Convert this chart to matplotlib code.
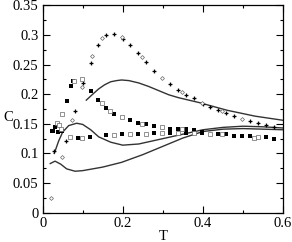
import matplotlib
matplotlib.use("Agg")
import matplotlib.pyplot as plt
from matplotlib.ticker import MultipleLocator

plt.rcParams.update({
    'font.family': 'Liberation Serif',
    'font.size': 10.5,
})

# solid curves
line1_T = [0.109, 0.125, 0.14, 0.155, 0.17, 0.185, 0.197, 0.215, 0.24, 0.265, 0.29, 0.315, 0.34, 0.39, 0.46, 0.53, 0.60]
line1_C = [0.190, 0.200, 0.209, 0.216, 0.221, 0.223, 0.224, 0.223, 0.219, 0.213, 0.206, 0.199, 0.194, 0.186, 0.173, 0.163, 0.156]

line2_T = [0.029, 0.04, 0.05, 0.065, 0.085, 0.10, 0.12, 0.14, 0.17, 0.20, 0.24, 0.28, 0.32, 0.36, 0.40, 0.45, 0.50, 0.55, 0.60]
line2_C = [0.100, 0.121, 0.136, 0.147, 0.151, 0.149, 0.140, 0.128, 0.119, 0.114, 0.116, 0.122, 0.128, 0.134, 0.140, 0.144, 0.146, 0.145, 0.143]

line3_T = [0.019, 0.031, 0.045, 0.06, 0.081, 0.10, 0.15, 0.197, 0.25, 0.30, 0.35, 0.40, 0.45, 0.50, 0.55, 0.60]
line3_C = [0.083, 0.087, 0.082, 0.074, 0.070, 0.071, 0.077, 0.085, 0.098, 0.112, 0.126, 0.137, 0.141, 0.142, 0.141, 0.140]

# hump: filled crosses
plus_T = [0.029, 0.059, 0.080, 0.100, 0.120, 0.139, 0.158, 0.178, 0.200, 0.218, 0.238, 0.258, 0.278, 0.318, 0.338,
          0.357, 0.377, 0.400, 0.417, 0.437, 0.457, 0.477, 0.517, 0.537, 0.557, 0.577]
plus_C = [0.104, 0.121, 0.172, 0.219, 0.253, 0.283, 0.300, 0.302, 0.294, 0.283, 0.269, 0.254, 0.240, 0.217, 0.207,
          0.198, 0.193, 0.184, 0.179, 0.173, 0.168, 0.163, 0.155, 0.152, 0.148, 0.144]

# hump: open diamonds
diam_T = [0.022, 0.049, 0.074, 0.098, 0.123, 0.149, 0.198, 0.248, 0.298, 0.348, 0.397, 0.447, 0.497]
diam_C = [0.024, 0.094, 0.156, 0.213, 0.264, 0.295, 0.296, 0.262, 0.228, 0.203, 0.185, 0.171, 0.159]

# decreasing branch
dec_fill_T = [0.026, 0.031, 0.060, 0.070, 0.075, 0.120, 0.138, 0.158, 0.178, 0.218, 0.238, 0.258, 0.278, 0.318,
              0.338, 0.357, 0.377, 0.397, 0.437, 0.457, 0.477, 0.497, 0.517, 0.557, 0.577]
dec_fill_C = [0.138, 0.145, 0.188, 0.214, 0.222, 0.206, 0.190, 0.176, 0.167, 0.156, 0.152, 0.149, 0.147, 0.142,
              0.142, 0.141, 0.139, 0.137, 0.133, 0.133, 0.130, 0.130, 0.130, 0.127, 0.124]
dec_open_T = [0.035, 0.041, 0.049, 0.079, 0.098, 0.148, 0.168, 0.198, 0.248, 0.298, 0.348, 0.419, 0.448, 0.527, 0.537]
dec_open_C = [0.152, 0.148, 0.166, 0.222, 0.225, 0.186, 0.172, 0.161, 0.150, 0.144, 0.141, 0.133, 0.133, 0.126, 0.128]

# flat branch
flat_fill_T = [0.024, 0.039, 0.049, 0.089, 0.119, 0.158, 0.198, 0.238, 0.278, 0.318, 0.357, 0.397]
flat_fill_C = [0.138, 0.136, 0.138, 0.126, 0.128, 0.131, 0.133, 0.133, 0.134, 0.134, 0.134, 0.135]
flat_open_T = [0.045, 0.069, 0.099, 0.178, 0.218, 0.258, 0.298, 0.338, 0.377]
flat_open_C = [0.142, 0.128, 0.126, 0.132, 0.133, 0.133, 0.134, 0.134, 0.134]

fig = plt.figure(figsize=(2.92, 2.42), dpi=100)
ax = fig.add_axes([0.146, 0.121, 0.823, 0.857])

for T, C in [(line1_T, line1_C), (line2_T, line2_C), (line3_T, line3_C)]:
    ax.plot(T, C, color='#333333', linewidth=1.0)

ax.plot(plus_T, plus_C, linestyle='none', marker='P', markersize=2.8, color='black', markeredgewidth=0)
ax.plot(diam_T, diam_C, linestyle='none', marker='D', markersize=2.0, markerfacecolor='white',
        markeredgecolor='#666666', markeredgewidth=0.5)
for T, C in [(dec_fill_T, dec_fill_C), (flat_fill_T, flat_fill_C)]:
    ax.plot(T, C, linestyle='none', marker='s', markersize=2.3, color='black', markeredgewidth=0)
for T, C in [(dec_open_T, dec_open_C), (flat_open_T, flat_open_C)]:
    ax.plot(T, C, linestyle='none', marker='s', markersize=2.2, markerfacecolor='white',
            markeredgecolor='#666666', markeredgewidth=0.5)

ax.set_xlim(0, 0.6)
ax.set_ylim(0, 0.35)
ax.set_xticks([0, 0.2, 0.4, 0.6])
ax.set_xticklabels(['0', '0.2', '0.4', '0.6'])
ax.set_yticks([0, 0.05, 0.1, 0.15, 0.2, 0.25, 0.3, 0.35])
ax.set_yticklabels(['0', '0.05', '0.1', '0.15', '0.2', '0.25', '0.3', '0.35'])
ax.xaxis.set_minor_locator(MultipleLocator(0.1))
ax.yaxis.set_minor_locator(MultipleLocator(0.025))
ax.tick_params(which='both', direction='in', top=True, right=True, width=0.8)
ax.tick_params(which='major', length=5, pad=3)
ax.tick_params(which='minor', length=2.5)
for s in ax.spines.values():
    s.set_linewidth(0.9)

ax.set_xlabel('T')
ax.set_ylabel('C', rotation=0, ha='center', va='center')
ax.xaxis.set_label_coords(0.5, -0.085)
ax.yaxis.set_label_coords(-0.144, 0.457)

fig.savefig('out.png', dpi=100)
